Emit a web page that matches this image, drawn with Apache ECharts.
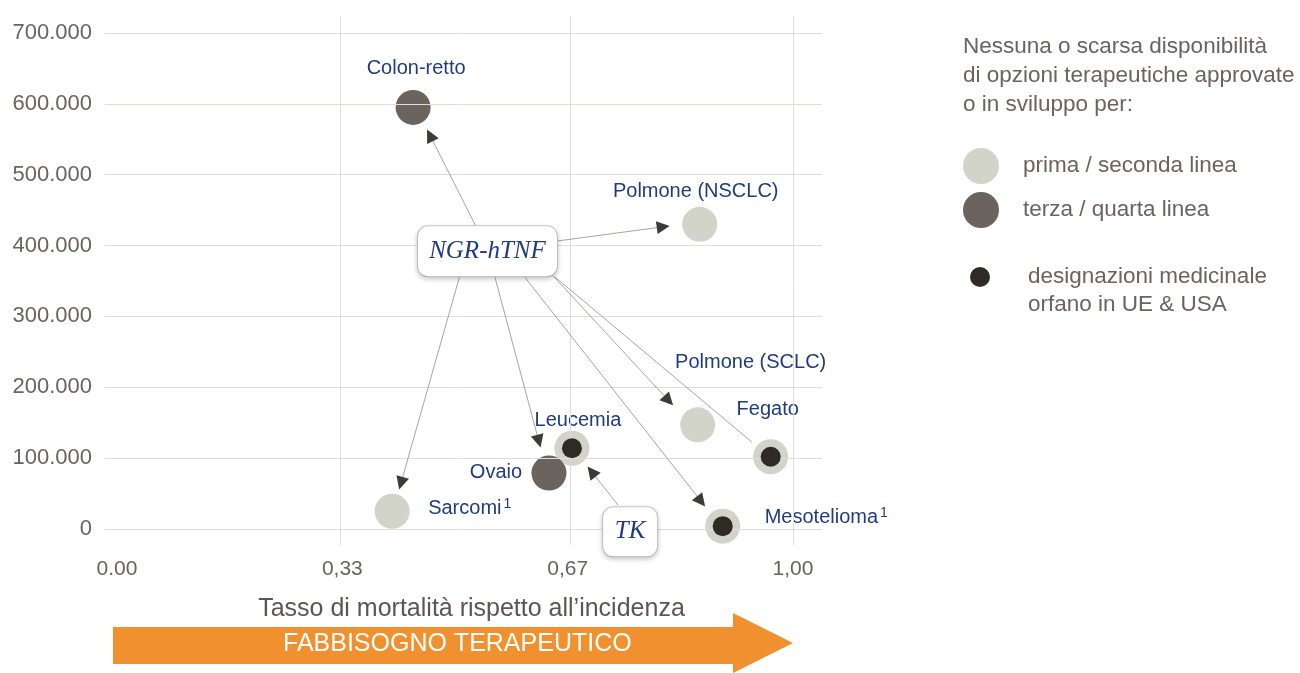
<!DOCTYPE html>
<html>
<head>
<meta charset="utf-8">
<script src="https://cdn.jsdelivr.net/npm/echarts@6/dist/echarts.min.js"></script>
<style>
  html, body { margin: 0; padding: 0; background: #ffffff; }
  #chart { width: 1300px; height: 673px; }
</style>
</head>
<body>
<div id="chart"></div>
<script>
// Tumour types: ratio of mortality to incidence vs. yearly new cases
const tumours = ['Colon-retto', 'Polmone (NSCLC)', 'Polmone (SCLC)', 'Fegato', 'Leucemia', 'Ovaio', 'Sarcomi', 'Mesotelioma'];
const mortalityRatio = [0.438, 0.862, 0.859, 0.967, 0.673, 0.639, 0.407, 0.896];
const newCases = [595000, 430000, 147000, 102000, 114000, 79000, 25000, 4000];
// 'early' = prima / seconda linea, 'late' = terza / quarta linea
const therapyLine = ['late', 'early', 'early', 'early', 'early', 'late', 'early', 'early'];
const orphanDesignation = [false, false, false, true, true, false, false, true];
const footnote = ['', '', '', '', '', '', '1', '1'];

// Axis ticks and their printed labels
const xTicks = [0, 1 / 3, 2 / 3, 1];
const xTickLabels = ['0.00', '0,33', '0,67', '1,00'];
const yTicks = [0, 100000, 200000, 300000, 400000, 500000, 600000, 700000];
const yTickLabels = ['0', '100.000', '200.000', '300.000', '400.000', '500.000', '600.000', '700.000'];

// Callout boxes (drug candidates) placed in data space
const calloutNames = ['NGR-hTNF', 'TK'];
const calloutX = [0.548, 0.759];
const calloutY = [392000, -4000];

// Connectors from the callouts to the tumour points: [x, y] start, [x, y] end
const connectorFrom = [[0.530, 429000], [0.651, 406400], [0.507, 357000], [0.559, 355600], [0.602, 357000], [0.644, 358400], [0.648, 355600], [0.741, 33900]];
const connectorTo   = [[0.463, 555500], [0.808, 426500], [0.420, 64600],  [0.624, 123900], [0.864, 39100],  [0.816, 181200], [0.939, 122800], [0.702, 80900]];
const connectorHasHead = [true, true, true, true, true, true, false, true];

const legendHeading = 'Nessuna o scarsa disponibilità\ndi opzioni terapeutiche approvate\no in sviluppo per:';
const seriesNames = ['prima / seconda linea', 'terza / quarta linea', 'designazioni medicinale\norfano in UE & USA'];
const xAxisTitle = 'Tasso di mortalità rispetto all’incidenza';
const bannerText = 'FABBISOGNO TERAPEUTICO';

const FONT = '"Liberation Sans", Arial, Helvetica, sans-serif';
const SERIF = '"Liberation Serif", "Times New Roman", serif';
const GREY_TEXT = '#6b635e';
const BLUE = '#1f3c80';
const LIGHT = '#d3d4c9';
const DARK = '#6b635e';
const BLACK = '#302a27';

// Where each tumour name sits relative to its circle
const labelPlacement = {
  'Colon-retto':     { offset: [3, -39],  align: 'center' },
  'Polmone (NSCLC)': { offset: [-4, -33], align: 'center' },
  'Polmone (SCLC)':  { offset: [53, -62], align: 'center' },
  'Fegato':          { offset: [-3, -47], align: 'center' },
  'Leucemia':        { offset: [6, -28],  align: 'center' },
  'Ovaio':           { offset: [-53, -1], align: 'center' },
  'Sarcomi':         { offset: [36, -3],  align: 'left' },
  'Mesotelioma':     { offset: [42, -9],  align: 'left' }
};

function pointItem(i) {
  const place = labelPlacement[tumours[i]];
  const text = footnote[i] ? '{n|' + tumours[i] + '}{s|' + footnote[i] + '}' : '{n|' + tumours[i] + '}';
  return {
    name: tumours[i],
    value: [mortalityRatio[i], newCases[i]],
    label: {
      show: true,
      position: 'inside',
      align: place.align,
      verticalAlign: 'middle',
      offset: place.offset,
      formatter: text,
      rich: {
        n: { fontFamily: FONT, fontSize: 20, color: BLUE, lineHeight: 22 },
        s: { fontFamily: FONT, fontSize: 14, color: BLUE, lineHeight: 14, verticalAlign: 'top', padding: [0, 0, 0, 2] }
      }
    }
  };
}

const earlyData = [], lateData = [], orphanData = [];
tumours.forEach(function (t, i) {
  if (therapyLine[i] === 'early') earlyData.push(pointItem(i));
  else lateData.push(pointItem(i));
  if (orphanDesignation[i]) orphanData.push({ name: t, value: [mortalityRatio[i], newCases[i]] });
});

const connectorLines = connectorFrom.map(function (p, i) {
  return [{ coord: p }, { coord: connectorTo[i] }];
});
// Arrowheads ride on a tiny dark stub at the end of each connector so they take its direction
const arrowHeads = [];
connectorFrom.forEach(function (p, i) {
  if (!connectorHasHead[i]) return;
  const q = connectorTo[i];
  const stub = [q[0] + (p[0] - q[0]) * 0.002, q[1] + (p[1] - q[1]) * 0.002];
  arrowHeads.push([{ coord: stub }, { coord: q }]);
});

const calloutSizes = { 'NGR-hTNF': [139, 50], 'TK': [54, 49] };
const calloutData = calloutNames.map(function (n, i) {
  return {
    name: n,
    value: [calloutX[i], calloutY[i]],
    label: { width: calloutSizes[n][0], height: calloutSizes[n][1], lineHeight: calloutSizes[n][1] }
  };
});

const chart = echarts.init(document.getElementById('chart'), null, { renderer: 'canvas' });

chart.setOption({
  animation: false,
  backgroundColor: '#ffffff',
  textStyle: { fontFamily: FONT },
  title: {
    text: legendHeading,
    left: 958,
    top: 27,
    textStyle: { fontFamily: FONT, fontSize: 22.5, fontWeight: 'normal', color: GREY_TEXT, lineHeight: 29 }
  },
  legend: [
    {
      data: [seriesNames[0], seriesNames[1]],
      orient: 'vertical',
      left: 958,
      top: 143,
      itemWidth: 36,
      itemHeight: 36,
      itemGap: 8,
      icon: 'circle',
      selectedMode: false,
      textStyle: { fontFamily: FONT, fontSize: 22.5, color: GREY_TEXT, padding: [0, 0, 0, 19] }
    },
    {
      data: [seriesNames[2]],
      orient: 'vertical',
      left: 965,
      top: 230,
      itemWidth: 20,
      itemHeight: 20,
      icon: 'circle',
      selectedMode: false,
      // a blank leading line keeps the dot level with the first line of text
      formatter: function (name) { return ' \n' + name; },
      textStyle: { fontFamily: FONT, fontSize: 22.5, color: GREY_TEXT, lineHeight: 28, padding: [0, 0, 0, 33] }
    }
  ],
  grid: { left: 105, right: 478, top: 16, bottom: 128 },
  xAxis: {
    type: 'value',
    min: -0.0178,
    max: 1.0429,
    name: xAxisTitle,
    nameLocation: 'middle',
    nameGap: 52,
    nameTextStyle: { fontFamily: FONT, fontSize: 25, color: '#5c5550', padding: [0, 0, 0, 16] },
    axisLine: { show: false },
    axisTick: { show: false, customValues: xTicks.slice(1) },
    axisLabel: {
      customValues: xTicks,
      margin: 14,
      fontFamily: FONT,
      fontSize: 21,
      color: GREY_TEXT,
      formatter: function (v) { return xTickLabels[Math.round(v * 3)]; }
    },
    splitLine: { show: false }
  },
  yAxis: {
    type: 'value',
    min: -22600,
    max: 724000,
    axisLine: { show: false },
    axisTick: { show: false, customValues: yTicks },
    axisLabel: {
      customValues: yTicks,
      margin: 13,
      fontFamily: FONT,
      fontSize: 22,
      color: GREY_TEXT,
      formatter: function (v) { return yTickLabels[Math.round(v / 100000)]; }
    },
    splitLine: { show: false }
  },
  series: [
    {
      // grid lines
      name: 'grid',
      type: 'line',
      data: [],
      silent: true,
      z: 0,
      markLine: {
        silent: true,
        symbol: ['none', 'none'],
        label: { show: false },
        lineStyle: { color: '#e2ddd8', width: 1, type: 'solid' },
        emphasis: { disabled: true },
        data: yTicks.map(function (v) { return { yAxis: v }; })
          .concat(xTicks.slice(1).map(function (v) { return { xAxis: v }; }))
      }
    },
    {
      name: 'connectors',
      type: 'line',
      data: [],
      silent: true,
      z: 1,
      markLine: {
        silent: true,
        symbol: ['none', 'none'],
        label: { show: false },
        lineStyle: { color: '#a8a4a0', width: 1, type: 'solid' },
        emphasis: { disabled: true },
        data: connectorLines
      }
    },
    {
      name: 'arrowheads',
      type: 'line',
      data: [],
      silent: true,
      z: 2,
      markLine: {
        silent: true,
        symbol: ['none', 'triangle'],
        symbolSize: 13,
        label: { show: false },
        lineStyle: { color: '#3d3a38', width: 1, type: 'solid', opacity: 1 },
        emphasis: { disabled: true },
        data: arrowHeads
      }
    },
    {
      name: seriesNames[0],
      type: 'scatter',
      symbol: 'circle',
      symbolSize: 35,
      itemStyle: { color: LIGHT, opacity: 1 },
      silent: true,
      z: 3,
      data: earlyData
    },
    {
      name: seriesNames[1],
      type: 'scatter',
      symbol: 'circle',
      symbolSize: 35,
      itemStyle: { color: DARK, opacity: 1 },
      silent: true,
      z: 4,
      data: lateData
    },
    {
      name: seriesNames[2],
      type: 'scatter',
      symbol: 'circle',
      symbolSize: 20,
      itemStyle: { color: BLACK, opacity: 1 },
      silent: true,
      z: 5,
      data: orphanData
    },
    {
      name: 'callouts',
      type: 'scatter',
      symbolSize: 1,
      itemStyle: { color: 'rgba(0,0,0,0)', opacity: 1 },
      silent: true,
      z: 6,
      label: {
        show: true,
        position: 'inside',
        formatter: '{b}',
        fontFamily: SERIF,
        fontStyle: 'italic',
        fontSize: 25,
        color: BLUE,
        opacity: 1,
        align: 'center',
        verticalAlign: 'middle',
        backgroundColor: '#ffffff',
        borderColor: '#cfcdca',
        borderWidth: 1,
        borderRadius: 10,
        padding: 0,
        shadowColor: 'rgba(0,0,0,0.18)',
        shadowBlur: 5,
        shadowOffsetY: 2
      },
      data: calloutData
    }
  ],
  graphic: [
    {
      type: 'polygon',
      silent: true,
      shape: { points: [[113, 627], [733, 627], [733, 613], [793, 643], [733, 673], [733, 664], [113, 664]] },
      style: { fill: '#f0902e' }
    },
    {
      type: 'text',
      silent: true,
      left: 283,
      top: 632,
      style: {
        text: bannerText,
        fill: '#ffffff',
        font: '25px ' + FONT,
        shadowColor: 'rgba(120,60,0,0.5)',
        shadowBlur: 3,
        shadowOffsetY: 1
      }
    }
  ]
});
</script>
</body>
</html>
